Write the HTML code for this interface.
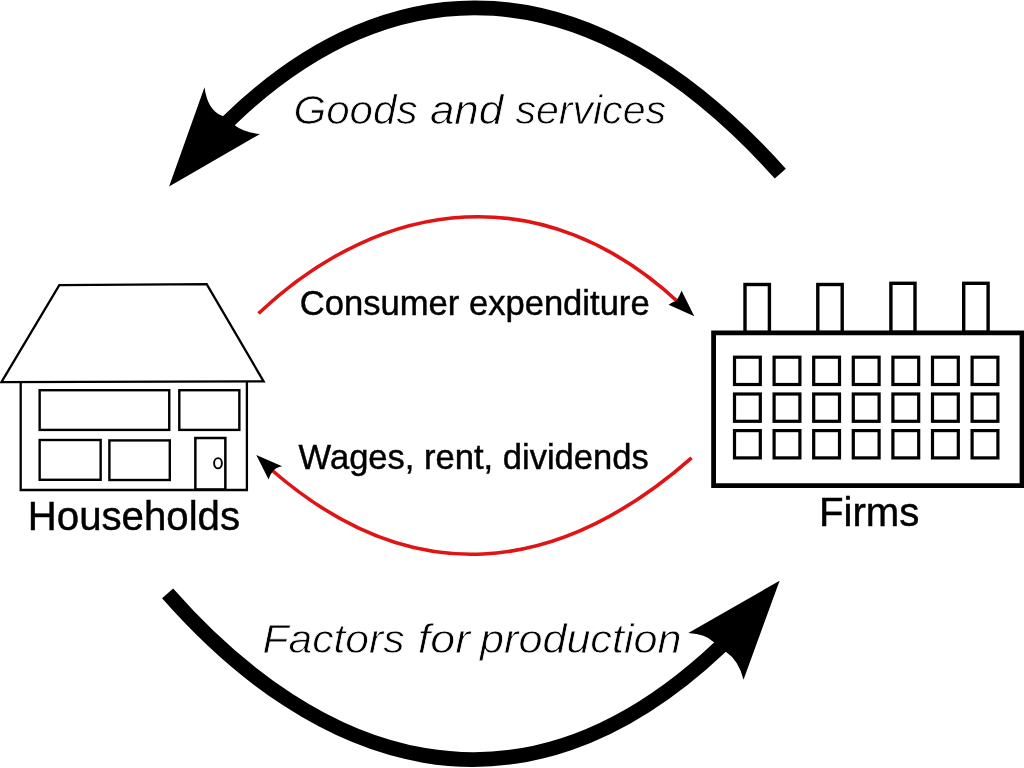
<!DOCTYPE html>
<html><head><meta charset="utf-8">
<style>
html,body{margin:0;padding:0;background:#fff;width:1024px;height:768px;overflow:hidden}
svg{display:block;position:absolute;left:0;top:0;will-change:transform}
text{font-family:"Liberation Sans",sans-serif;fill:#000}
.n{stroke:#000;stroke-width:0.45px}
.it{font-style:italic;font-size:41px;stroke:#fff;stroke-width:0.75px}
</style></head>
<body>
<svg width="1024" height="768" viewBox="0 0 1024 768">
<rect width="1024" height="768" fill="#fff"/>
<!-- top black arc: Goods and services -->
<path d="M780.3 173.6 C589.1 -39.4 390.8 -36.1 229.1 120.5 L221.9 127.5" fill="none" stroke="#000" stroke-width="14.8"/>
<path d="M169.1 186.4 L204.5 87.2 Q207.5 110.35 222.5 116.1 L235 125.5 Q243.5 132.25 260 134 Z" fill="#000"/>
<!-- bottom black arc: Factors for production -->
<path d="M167.6 593.3 C317 763.2 518.3 837.5 719.7 647.4 L727 640.5" fill="none" stroke="#000" stroke-width="14.8"/>
<path d="M779.6 580.8 L688.3 632.9 Q706 634 713.3 641.8 L725.8 651.7 Q738.9 660.45 743.5 679.8 Z" fill="#000"/>
<!-- red arcs -->
<path d="M258.5 313.5 C383.2 195.7 545.1 177.5 679.2 303" fill="none" stroke="#e01414" stroke-width="3.6"/>
<path d="M694.3 316.2 L681.6 290.8 Q679 297 676.5 300.5 Q672 302.5 668.6 304.8 Z" fill="#000"/>
<path d="M691.6 457.8 C556 576.7 411.3 591.1 272.3 470.5" fill="none" stroke="#e01414" stroke-width="3.6"/>
<path d="M256.3 455 L282.1 466.2 Q276 467.5 273 470.9 Q270 474.5 268.6 479.5 Z" fill="#000"/>
<!-- house -->
<g fill="none" stroke="#000" stroke-width="2.3" stroke-linejoin="miter">
<path d="M59.3 285.1 L206.7 284.2 L263.6 381.3 L1.4 382.1 Z"/>
<path d="M20.7 382 L20.7 490 L246.9 490 L246.9 381.5"/>
</g>
<g fill="none" stroke="#000" stroke-width="2.4">
<rect x="39.65" y="390.2" width="129.6" height="39.7"/>
<rect x="179.3" y="390.2" width="60.05" height="39.7"/>
<rect x="39.65" y="440" width="61" height="39.8"/>
<rect x="109.4" y="440.4" width="60.4" height="39.6"/>
</g>
<rect x="195.35" y="438" width="30" height="51.5" fill="none" stroke="#000" stroke-width="2.5"/>
<ellipse cx="218" cy="463.25" rx="3.9" ry="5.1" fill="none" stroke="#000" stroke-width="1.9"/>
<!-- factory -->
<g fill="none" stroke="#000" stroke-width="3.4">
<rect x="745" y="284.5" width="24.4" height="48"/>
<rect x="817.8" y="284.5" width="24.4" height="48"/>
<rect x="890.9" y="283.3" width="24.1" height="49"/>
<rect x="963.7" y="283.3" width="24.4" height="49"/>
</g>
<path d="M713.6 485.6 L713.6 332.9 L1022 332.9 L1022 485.6 Z" fill="#fff" stroke="#000" stroke-width="4.8"/>
<g fill="none" stroke="#000" stroke-width="3.2">
<g id="row">
<rect x="734.5" y="357.2" width="25.8" height="27.3"/>
<rect x="774.1" y="357.2" width="25.8" height="27.3"/>
<rect x="813.7" y="357.2" width="25.8" height="27.3"/>
<rect x="853.3" y="357.2" width="25.8" height="27.3"/>
<rect x="892.9" y="357.2" width="25.8" height="27.3"/>
<rect x="932.5" y="357.2" width="25.8" height="27.3"/>
<rect x="972.1" y="357.2" width="25.8" height="27.3"/>
</g>
<use href="#row" y="36.8"/>
<use href="#row" y="73.4"/>
</g>
<!-- labels -->
<text class="n" x="27.8" y="529.9" font-size="40.2">Households</text>
<text class="n" x="819" y="526.3" font-size="40.2">Firms</text>
<text class="n" x="299.8" y="315" font-size="34.6">Consumer expenditure</text>
<text class="n" x="298.6" y="468.75" font-size="34.55">Wages, rent, dividends</text>
<text class="it" transform="translate(293.4 123.5) scale(1.027 1)">Goods</text>
<text class="it" transform="translate(429.9 123.5) scale(1.073 1)">and</text>
<text class="it" transform="translate(515.4 123.5) scale(1.002 1)">services</text>
<text class="it" transform="translate(262.6 653) scale(1.038 1)">Factors</text>
<text class="it" transform="translate(417.8 653) scale(1.093 1)">for</text>
<text class="it" transform="translate(480.1 653) scale(1.052 1)">production</text>
</svg>
</body></html>
